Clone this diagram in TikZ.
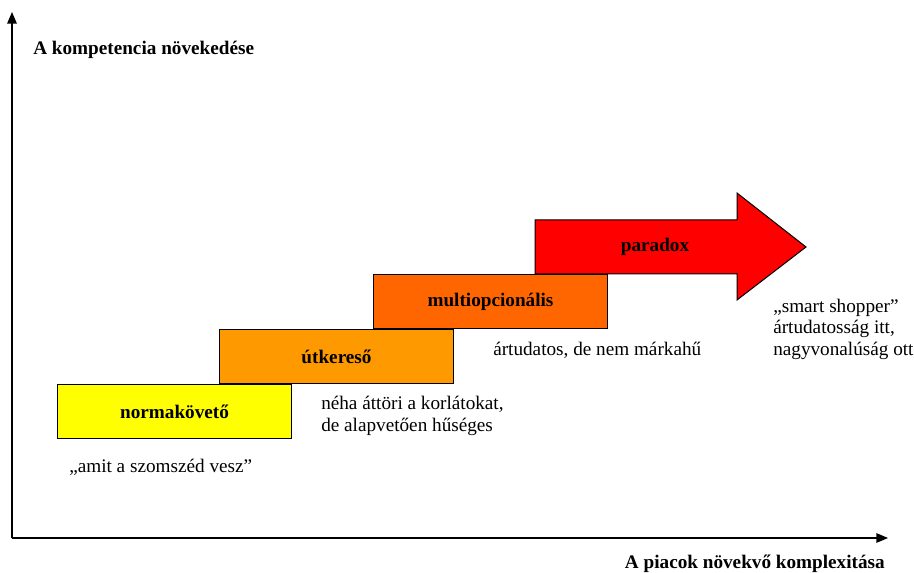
\documentclass[tikz,border=0pt]{standalone}
\usepackage{fontspec}
\setmainfont{Liberation Serif}
\usepackage{xcolor}
\usepackage{tikz}
\usetikzlibrary{calc,arrows,shapes,positioning}

\definecolor{normyellow}{RGB}{255,255,0}
\definecolor{utorange}{RGB}{255,153,0}
\definecolor{multiorange}{RGB}{255,102,0}
\definecolor{paradoxred}{RGB}{255,0,0}

\begin{document}
\begin{tikzpicture} [x=0.75pt, y=-0.75pt,
       stepbox/.style = {rectangle, minimum width=175.5pt, minimum height=40.5pt,
                         inner sep=0pt, line width=0.75pt, draw=black, fill=#1,
                         font=\fontsize{14.4pt}{16pt}\selectfont\bfseries},
       axislabel/.style = {inner sep=0pt, font=\fontsize{14.4pt}{16pt}\selectfont\bfseries},
       note/.style = {inner sep=0pt, align=left, anchor=west,
                      font=\fontsize{14.4pt}{16.1pt}\selectfont}]
	\useasboundingbox (0,0) rectangle (914,573);
	%% Axes
	\coordinate (origin) at (12,538);
	\coordinate (ytop) at (12,12);
	\coordinate (xend) at (888,538);
	\draw [line width=1pt,-triangle 45] (origin) -- (ytop);
	\draw [line width=1pt,-triangle 45] (origin) -- (xend);
	\node [axislabel,anchor=west] (ylab) at (33,50) {A kompetencia növekedése};
	\node [axislabel,anchor=east] (xlab) at (885,564) {A piacok növekvő komplexitása};
	%% Steps
	\node [stepbox={normyellow},anchor=north west] (norm) at (57,384) {normakövető};
	\node [stepbox={utorange},above right=0pt and 121.5pt of norm.north west] (ut) {útkereső};
	\node [stepbox={multiorange},above right=0pt and 115.5pt of ut.north west] (multi) {multiopcionális};
	\coordinate [above right=0pt and 121.5pt of multi.north west] (parasw);
	\draw [line width=0.75pt,fill=paradoxred] (parasw) -- ++(202,0) -- ++(0,26) -- ++(69,-53)
	      -- ++(-69,-54) -- ++(0,27) -- ++(-202,0) -- cycle;
	\node [axislabel] (para) at ($(parasw)+(120,-27)$) {paradox};
	%% Notes
	\node [note] (normnote) at (69,467) {„amit a szomszéd vesz”};
	\node [note] (utnote) at (321,416) {néha áttöri a korlátokat,\\de alapvetően hűséges};
	\node [note] (multinote) at (493,350) {ártudatos, de nem márkahű};
	\node [note] (paranote) at (773,329) {„smart shopper”\\ártudatosság itt,\\nagyvonalúság ott};
\end{tikzpicture}
\end{document}
